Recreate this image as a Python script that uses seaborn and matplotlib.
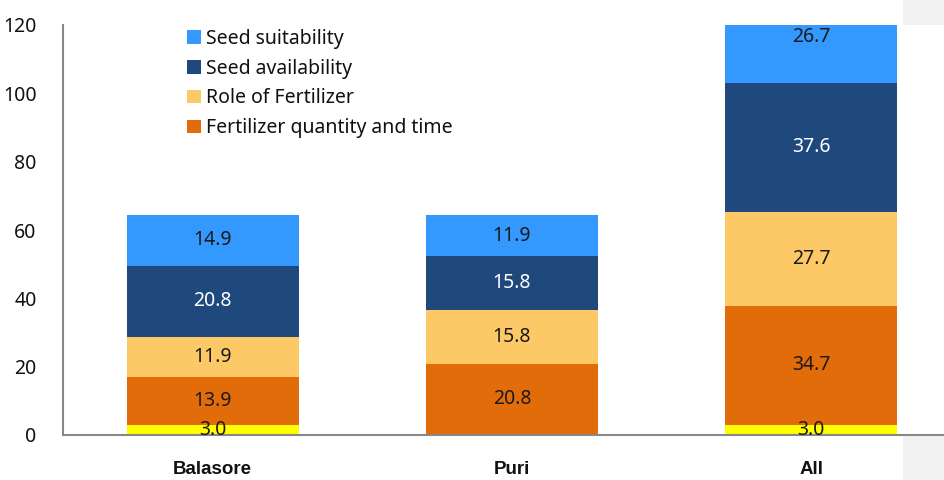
import matplotlib
matplotlib.use("Agg")
import matplotlib.pyplot as plt
import seaborn as sns
import numpy as np
from matplotlib.patches import Rectangle, Patch

categories = ["Balasore", "Puri", "All"]
series_names = ["Other", "Fertilizer quantity and time", "Role of Fertilizer",
                "Seed availability", "Seed suitability"]
other = [3.0, 0.0, 3.0]
fert_qty_time = [13.9, 20.8, 34.7]
role_fert = [11.9, 15.8, 27.7]
seed_avail = [20.8, 15.8, 37.6]
seed_suit = [14.9, 11.9, 26.7]
series_values = [other, fert_qty_time, role_fert, seed_avail, seed_suit]
colors = ["#ffff00", "#e36c0a", "#fdc966", "#1f497d", "#3399ff"]
label_colors = ["#1a1a1a", "#1a1a1a", "#1a1a1a", "#ffffff", "#1a1a1a"]
y_ticks = [0, 20, 40, 60, 80, 100, 120]

sns.set_theme(style="white")
plt.rcParams["font.family"] = ["Noto Sans", "DejaVu Sans"]

fig = plt.figure(figsize=(9.45, 4.8), dpi=100)
fig.patch.set_facecolor("white")
fig.patches.append(Rectangle((903/945, 0), 1 - 903/945, 1, transform=fig.transFigure,
                             facecolor="#f2f2f2", edgecolor="none", zorder=-10))
ax = fig.add_axes([63/945, 45/480, 1 - 63/945, 410/480])
ax.set_facecolor("white")

bottom = np.zeros(len(categories))
for name, vals, col, lc in zip(series_names, series_values, colors, label_colors):
    vals = np.array(vals)
    sns.barplot(x=categories, y=vals, bottom=bottom, color=col, width=0.574,
                ax=ax, saturation=1, label="_nolegend_", zorder=2,
                linewidth=0, edgecolor="none")
    for i, v in enumerate(vals):
        if v > 0:
            ax.text(i, bottom[i] + v / 2, f"{v:.1f}", ha="center", va="center",
                    fontsize=14, color=lc, zorder=3, clip_on=False)
    bottom = bottom + vals

ax.set_ylim(0, 120)
ax.set_xlim(-0.5, 2.447)
ax.set_yticks(y_ticks)
ax.set_yticklabels([str(t) for t in y_ticks], fontsize=14, color="#111111")
ax.set_xticks(range(len(categories)))
ax.set_xticklabels(categories, fontsize=13.5, fontweight="bold", color="#111111",
                   family=["Liberation Sans", "DejaVu Sans"])
ax.tick_params(axis="y", length=0, pad=19)
ax.tick_params(axis="x", length=0, pad=19)
for s in ["top", "right"]:
    ax.spines[s].set_visible(False)
for s in ["left", "bottom"]:
    ax.spines[s].set_color("#888888")
    ax.spines[s].set_linewidth(1.5)
ax.set_xlabel("")
ax.set_ylabel("")

handles = [Patch(facecolor=colors[i], edgecolor="none", label=series_names[i]) for i in [4, 3, 2, 1]]
leg = fig.legend(handles=handles, loc="upper left", bbox_to_anchor=(187/945, 1 - 29/480),
                 frameon=False, fontsize=14, handlelength=0.7, handleheight=0.7,
                 handletextpad=0.3, labelspacing=0.5, borderpad=0, borderaxespad=0)
for t in leg.get_texts():
    t.set_color("#111111")

fig.savefig("out.png", dpi=100, facecolor=fig.get_facecolor())
